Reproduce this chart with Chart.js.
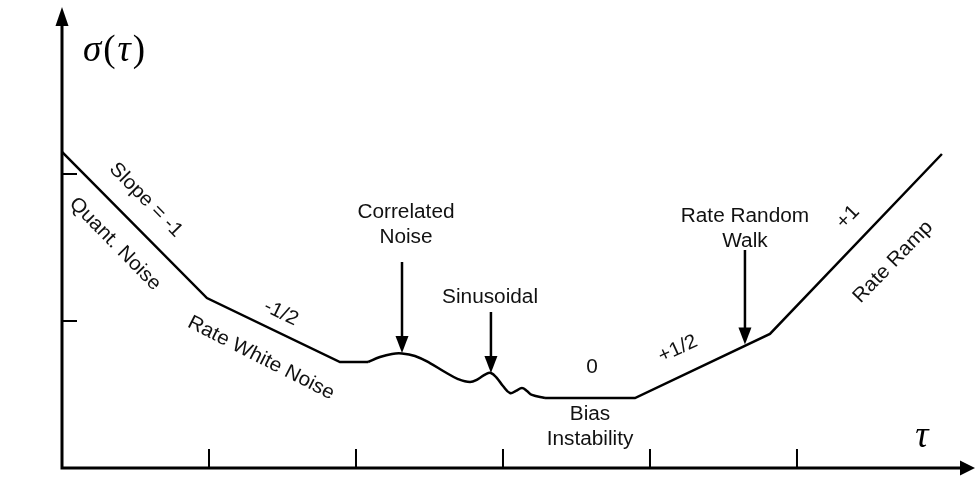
<!DOCTYPE html>
<html lang="en">
<head>
    <meta charset="UTF-8">
    <title>Allan Deviation Regions</title>
    <script src="https://cdn.jsdelivr.net/npm/chart.js"></script>
    <style>
        body {
            margin: 0;
            background-color: white;
        }
        #wrap {
            width: 976px;
            height: 477px;
        }
    </style>
</head>
<body>
    <div id="wrap"><canvas id="allanChart" width="976" height="477"></canvas></div>

    <script>
        // axis ticks (tau, sigma in schematic units)
        const tauTicks = [1, 2, 3, 4, 5];
        const sigmaTicks = [1, 2];

        // straight part: quantization -> rate white noise -> flat
        const leftTau   = [0, 0.986, 1.891, 2.082];
        const leftSigma = [2.150, 1.156, 0.721, 0.721];

        // correlated noise bump + sinusoidal ripple
        const waveTau   = [2.082, 2.163, 2.245, 2.313, 2.401, 2.503, 2.605, 2.694, 2.776, 2.830, 2.884, 2.918, 2.959, 3.000, 3.048, 3.088, 3.129, 3.163, 3.197, 3.286];
        const waveSigma = [0.721, 0.755, 0.776, 0.779, 0.762, 0.714, 0.653, 0.605, 0.585, 0.605, 0.639, 0.646, 0.612, 0.558, 0.510, 0.524, 0.544, 0.524, 0.497, 0.476];

        // bias instability -> rate random walk -> rate ramp
        const rightTau   = [3.286, 3.898, 4.816, 5.986];
        const rightSigma = [0.476, 0.476, 0.912, 2.136];

        // pointer arrows
        const arrowTau  = [2.313, 2.918, 4.646];
        const arrowFrom = [1.401, 1.061, 1.483];
        const arrowTo   = [0.782, 0.646, 0.840];

        // text labels: [text, tau, sigma, angle]
        const labels = [
            ['Slope = -1', 0.571, 1.823, 45.5],
            ['Quant. Noise', 0.361, 1.524, 45.5],
            ['-1/2', 1.490, 1.054, 26],
            ['Rate White Noise', 1.354, 0.748, 27],
            ['Correlated', 2.340, 1.735, 0],
            ['Noise', 2.340, 1.571, 0],
            ['Sinusoidal', 2.912, 1.163, 0],
            ['0', 3.605, 0.687, 0],
            ['Bias', 3.592, 0.361, 0],
            ['Instability', 3.592, 0.197, 0],
            ['+1/2', 4.190, 0.810, -25],
            ['Rate Random', 4.646, 1.714, 0],
            ['Walk', 4.646, 1.544, 0],
            ['+1', 5.347, 1.707, -46],
            ['Rate Ramp', 5.653, 1.401, -46]
        ];

        const toPoints = (xs, ys) => xs.map((v, i) => ({ x: v, y: ys[i] }));

        function head(ctx, tx, ty, dir, len, wid) {
            ctx.beginPath();
            if (dir === 'down') {
                ctx.moveTo(tx, ty);
                ctx.lineTo(tx - wid / 2, ty - len);
                ctx.lineTo(tx + wid / 2, ty - len);
            } else if (dir === 'up') {
                ctx.moveTo(tx, ty);
                ctx.lineTo(tx - wid / 2, ty + len);
                ctx.lineTo(tx + wid / 2, ty + len);
            } else {
                ctx.moveTo(tx, ty);
                ctx.lineTo(tx - len, ty - wid / 2);
                ctx.lineTo(tx - len, ty + wid / 2);
            }
            ctx.closePath();
            ctx.fill();
        }

        function text(ctx, str, cx, cy, angle) {
            ctx.save();
            ctx.translate(cx, cy);
            ctx.rotate(angle * Math.PI / 180);
            ctx.scale(1.04, 1);
            ctx.font = '20px "Liberation Sans", Arial, sans-serif';
            ctx.textAlign = 'center';
            ctx.textBaseline = 'middle';
            ctx.fillText(str, 0, 0);
            ctx.restore();
        }

        const schematic = {
            id: 'schematic',
            afterDatasetsDraw(chart) {
                const { ctx, scales: { x, y } } = chart;
                const px = v => x.getPixelForValue(v);
                const py = v => y.getPixelForValue(v);
                const x0 = px(0), y0 = py(0);
                const xEnd = px(x.max), yEnd = py(y.max);

                ctx.save();
                ctx.strokeStyle = '#000';
                ctx.fillStyle = '#000';

                // axes with arrowheads
                ctx.lineWidth = 3;
                ctx.lineCap = 'square';
                ctx.beginPath();
                ctx.moveTo(x0, y0);
                ctx.lineTo(xEnd - 12, y0);
                ctx.moveTo(x0, y0);
                ctx.lineTo(x0, yEnd + 16);
                ctx.stroke();
                head(ctx, xEnd, y0, 'right', 15, 15);
                head(ctx, x0, yEnd, 'up', 19, 13);

                // inward ticks
                ctx.lineWidth = 2;
                ctx.lineCap = 'butt';
                ctx.beginPath();
                tauTicks.forEach(t => {
                    ctx.moveTo(px(t), y0);
                    ctx.lineTo(px(t), y0 - 19);
                });
                sigmaTicks.forEach(s => {
                    ctx.moveTo(x0, py(s));
                    ctx.lineTo(x0 + 15, py(s));
                });
                ctx.stroke();

                // pointer arrowheads
                arrowTau.forEach((t, i) => head(ctx, px(t), py(arrowTo[i]), 'down', 17, 13));

                // labels
                ctx.fillStyle = '#111';
                labels.forEach(l => text(ctx, l[0], px(l[1]), py(l[2]), l[3]));

                // sigma(tau) and tau in serif
                ctx.fillStyle = '#000';
                ctx.textBaseline = 'middle';
                ctx.textAlign = 'left';
                let cx = px(0.143);
                const cy = py(2.837);
                [['σ', 'italic'], ['(', 'normal'], ['τ', 'italic'], [')', 'normal']].forEach(p => {
                    ctx.font = p[1] + ' 37px "Liberation Serif", "Times New Roman", serif';
                    ctx.fillText(p[0], cx, cy);
                    cx += ctx.measureText(p[0]).width + 2;
                });
                ctx.font = 'italic 37px "Liberation Serif", "Times New Roman", serif';
                ctx.textAlign = 'center';
                ctx.fillText('τ', px(5.850), py(0.211));
                ctx.restore();
            }
        };

        const lineStyle = {
            borderColor: '#000',
            borderWidth: 2.5,
            pointRadius: 0,
            fill: false,
            clip: false
        };

        const arrowSets = arrowTau.map((t, i) => Object.assign({
            data: [{ x: t, y: arrowFrom[i] }, { x: t, y: arrowTo[i] + 0.08 }]
        }, lineStyle));

        new Chart(document.getElementById('allanChart'), {
            type: 'line',
            data: {
                datasets: [
                    Object.assign({ data: toPoints(leftTau, leftSigma), tension: 0 }, lineStyle),
                    Object.assign({ data: toPoints(waveTau, waveSigma), tension: 0.4 }, lineStyle),
                    Object.assign({ data: toPoints(rightTau, rightSigma), tension: 0 }, lineStyle),
                    ...arrowSets
                ]
            },
            options: {
                responsive: false,
                animation: false,
                layout: { padding: { left: 62, right: 1, top: 7, bottom: 9 } },
                plugins: { legend: { display: false }, tooltip: { enabled: false } },
                scales: {
                    x: { type: 'linear', min: 0, max: 6.211, display: false },
                    y: { type: 'linear', min: 0, max: 3.136, display: false }
                }
            },
            plugins: [schematic]
        });
    </script>
</body>
</html>
